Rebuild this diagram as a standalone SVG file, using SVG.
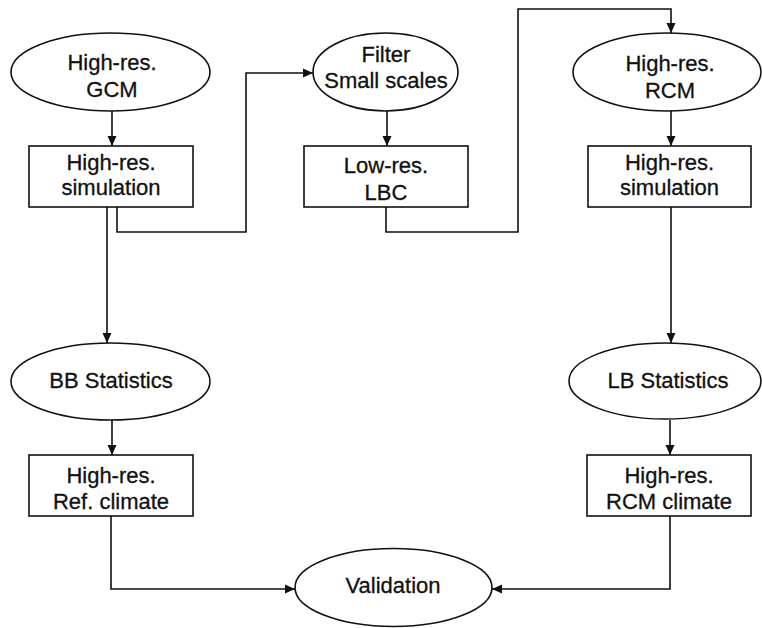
<svg xmlns="http://www.w3.org/2000/svg" width="762" height="628" viewBox="0 0 762 628">
  <style>
    .shape { fill: #ffffff; stroke: #111111; stroke-width: 1.6; }
    .label { font-family: "Liberation Sans", Arial, Helvetica, sans-serif; font-size: 22px; fill: #111111; stroke: #111111; stroke-width: 0.3; text-anchor: middle; }
    .wire { fill: none; stroke: #111111; stroke-width: 1.6; marker-end: url(#arrow); }
  </style>
  <defs>
    <marker id="arrow" markerUnits="userSpaceOnUse" markerWidth="10" markerHeight="10" refX="10" refY="5" orient="auto">
      <path d="M0,0.5 L10,5 L0,9.5 z" fill="#111111"/>
    </marker>
  </defs>
  <rect width="762" height="628" fill="#ffffff"/>

  <g id="connectors">
    <path class="wire" d="M112,111 L112,146"/>
    <path class="wire" d="M107,207 L107,343"/>
    <path class="wire" d="M117,207 L117,232 L246,232 L246,73 L313,73"/>
    <path class="wire" d="M387,111 L387,146"/>
    <path class="wire" d="M386,207 L386,232 L518,232 L518,9 L671,9 L671,33"/>
    <path class="wire" d="M671,111 L671,146"/>
    <path class="wire" d="M671,207 L671,343"/>
    <path class="wire" d="M112,420 L112,455"/>
    <path class="wire" d="M670,420 L670,455"/>
    <path class="wire" d="M111,516 L111,589 L295,589"/>
    <path class="wire" d="M670,516 L670,589 L492,589"/>
  </g>

  <g id="gcm">
    <ellipse class="shape" cx="110.5" cy="72" rx="99.5" ry="39"/>
    <text class="label" x="112" y="70">High-res.</text>
    <text class="label" x="112" y="97">GCM</text>
  </g>

  <g id="gcm-simulation">
    <rect class="shape" x="29" y="146" width="164" height="61"/>
    <text class="label" x="111" y="170">High-res.</text>
    <text class="label" x="111" y="195">simulation</text>
  </g>

  <g id="filter">
    <ellipse class="shape" cx="385.5" cy="72" rx="72.5" ry="39"/>
    <text class="label" x="386" y="62">Filter</text>
    <text class="label" x="386" y="88">Small scales</text>
  </g>

  <g id="lbc">
    <rect class="shape" x="304" y="146" width="164" height="61"/>
    <text class="label" x="386" y="173">Low-res.</text>
    <text class="label" x="386" y="200">LBC</text>
  </g>

  <g id="rcm">
    <ellipse class="shape" cx="667" cy="72" rx="94" ry="39"/>
    <text class="label" x="670" y="71">High-res.</text>
    <text class="label" x="670" y="98">RCM</text>
  </g>

  <g id="rcm-simulation">
    <rect class="shape" x="588" y="146" width="163" height="61"/>
    <text class="label" x="669.5" y="170">High-res.</text>
    <text class="label" x="669.5" y="195">simulation</text>
  </g>

  <g id="bb-statistics">
    <ellipse class="shape" cx="110.5" cy="381.5" rx="99.5" ry="38.5"/>
    <text class="label" x="111" y="388">BB Statistics</text>
  </g>

  <g id="ref-climate">
    <rect class="shape" x="29" y="455" width="164" height="61"/>
    <text class="label" x="111" y="483">High-res.</text>
    <text class="label" x="111" y="509">Ref. climate</text>
  </g>

  <g id="lb-statistics">
    <ellipse class="shape" cx="665" cy="381" rx="96" ry="38"/>
    <text class="label" x="668" y="388">LB Statistics</text>
  </g>

  <g id="rcm-climate">
    <rect class="shape" x="587" y="455" width="164" height="61"/>
    <text class="label" x="669" y="483">High-res.</text>
    <text class="label" x="669" y="509">RCM climate</text>
  </g>

  <g id="validation">
    <ellipse class="shape" cx="393.5" cy="587.5" rx="98.5" ry="39"/>
    <text class="label" x="393" y="593">Validation</text>
  </g>
</svg>
